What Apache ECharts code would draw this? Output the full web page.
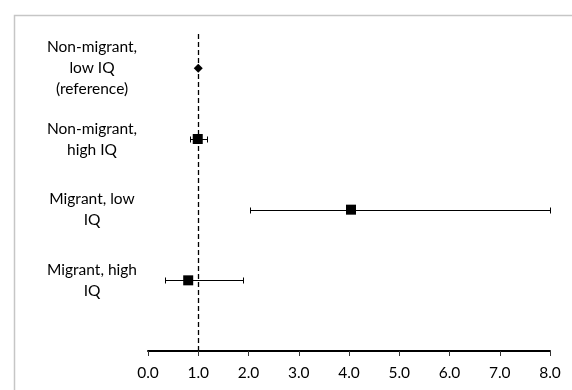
<!DOCTYPE html>
<html>
<head>
<meta charset="utf-8">
<script src="https://cdn.jsdelivr.net/npm/echarts@6/dist/echarts.min.js"></script>
<style>html,body{margin:0;padding:0;background:#fff}#c{width:572px;height:390px}</style>
</head>
<body>
<div id="c"></div>
<script>
// Data
const categories = ["Non-migrant,\nlow IQ\n(reference)", "Non-migrant,\nhigh IQ", "Migrant, low\nIQ", "Migrant, high\nIQ"];
const rowPositions = [4, 3, 2, 1];
const estimates = [1.0, 0.99, 4.04, 0.80];
const lowerCI = [null, 0.84, 2.03, 0.34];
const upperCI = [null, 1.17, 8.0, 1.90];
const markerShapes = ['diamond', 'rect', 'rect', 'rect'];
const xTicks = [0, 1, 2, 3, 4, 5, 6, 7, 8];
const referenceLine = 1.0;

const chart = echarts.init(document.getElementById('c'), null, {renderer: 'canvas'});
const font = 'Lato, sans-serif';

const pointData = estimates.map((v, i) => ({
  value: [v, rowPositions[i]],
  symbol: markerShapes[i],
  symbolSize: markerShapes[i] === 'diamond' ? 9 : 10
}));
const errData = [];
lowerCI.forEach((lo, i) => { if (lo !== null) errData.push([lo, upperCI[i], rowPositions[i]]); });

chart.setOption({
  animation: false,
  graphic: [{
    type: 'rect', left: 12, top: 13, silent: true,
    shape: {width: 600, height: 400},
    style: {fill: 'none', stroke: '#c6c6c6', lineWidth: 1.5}
  }],
  grid: {left: 148, right: 22, top: 33, bottom: 39},
  xAxis: {
    type: 'value', min: xTicks[0], max: xTicks[xTicks.length - 1], interval: 1,
    axisLine: {show: true, onZero: false, lineStyle: {color: '#000', width: 2}},
    axisTick: {show: true, length: 5, lineStyle: {color: '#333', width: 1}},
    splitLine: {show: false},
    axisLabel: {color: '#000', fontSize: 15.5, fontFamily: font, margin: 14,
      formatter: v => v.toFixed(1)}
  },
  yAxis: {
    type: 'value', min: 0, max: 4.5, interval: 1,
    axisLine: {show: false}, axisTick: {show: false}, splitLine: {show: false},
    axisLabel: {
      show: true, showMaxLabel: false, align: 'center', margin: 56,
      color: '#000', fontSize: 15.5, fontFamily: font, lineHeight: 21,
      formatter: v => { const i = rowPositions.indexOf(v); return i >= 0 ? categories[i] : ''; }
    }
  },
  series: [{
    type: 'custom',
    data: errData,
    z: 2,
    renderItem: (params, api) => {
      const a = api.coord([api.value(0), api.value(2)]);
      const b = api.coord([api.value(1), api.value(2)]);
      const y = Math.round(a[1]) + 0.5;
      const x1 = Math.round(a[0]) + 0.5, x2 = Math.round(b[0]) + 0.5;
      const h = 3;
      const st = {stroke: '#000', lineWidth: 1};
      return {type: 'group', children: [
        {type: 'line', shape: {x1: x1, y1: y, x2: x2, y2: y}, style: st},
        {type: 'line', shape: {x1: x1, y1: y - h, x2: x1, y2: y + h}, style: st},
        {type: 'line', shape: {x1: x2, y1: y - h, x2: x2, y2: y + h}, style: st}
      ]};
    }
  }, {
    type: 'scatter',
    data: pointData,
    z: 3,
    itemStyle: {color: '#000', opacity: 1},
    markLine: {
      silent: true, symbol: ['none', 'none'], label: {show: false},
      lineStyle: {color: '#000', type: [5, 3], width: 1.3},
      data: [{xAxis: referenceLine}]
    }
  }]
});
</script>
</body>
</html>
